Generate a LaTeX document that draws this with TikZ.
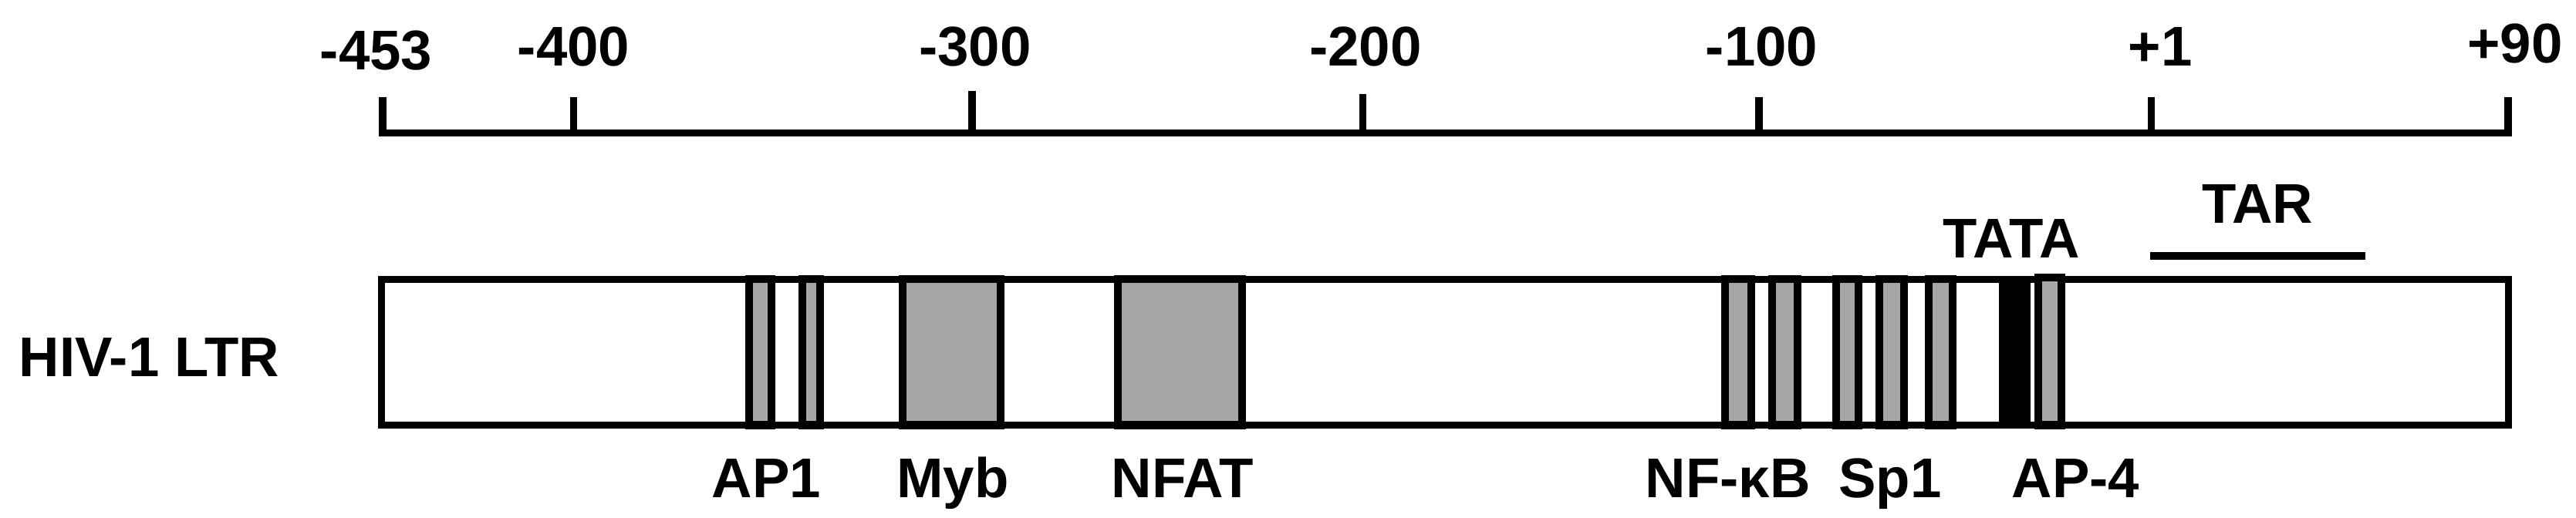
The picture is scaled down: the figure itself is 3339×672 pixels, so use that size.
\documentclass[tikz,border=0pt]{standalone}
\usepackage{fontspec}
\setmainfont{Liberation Sans}
\definecolor{siteGray}{HTML}{A6A6A6}
\begin{document}
\begin{tikzpicture}[x=0.25pt,y=-0.25pt,
  lbl/.style={font=\fontsize{18.15}{20}\selectfont\bfseries, inner sep=0pt, anchor=base},
  axisline/.style={line width=2.3pt, line join=miter},
  boxline/.style={line width=2.25pt},
  site/.style={draw=black, line width=2.5pt, fill=siteGray},
]
\useasboundingbox (0,0) rectangle (3339,672);
% scale axis
\draw[axisline] (496,126) -- (496,172.8) -- (3251,172.8) -- (3251,126);
\foreach \x/\t in {743.6/126, 1260/118, 1766.4/122, 2280/126, 2788.4/126}
  \draw[axisline] (\x,\t) -- (\x,172.8);
\node[lbl] (l453) at (487.6,91) {-453};
\node[lbl] (l400) at (743.5,86) {-400};
\node[lbl] (l300) at (1264,86) {-300};
\node[lbl] (l200) at (1770,86) {-200};
\node[lbl] (l100) at (2283.5,86) {-100};
\node[lbl] (lp1) at (2800,86) {+1};
\node[lbl] (lp90) at (3260,82) {+90};
% LTR box
\draw[boxline, fill=white] (494.5,362.5) rectangle (3251,551.5);
\foreach \a/\b in {970.6/999.5, 1039.7/1062.7, 1170.4/1296.6, 1448.7/1610,
                   2236/2270, 2296.5/2329.5, 2380/2409, 2435.5/2467.6, 2499.5/2531}
  \draw[site] (\a,362.5) rectangle (\b,551.5);
\fill[black] (2591,362.5) rectangle (2632,551.5);
\draw[site] (2642,360) rectangle (2672,551.5);
% TAR bracket
\coordinate (tarL) at (2787,331.7);
\coordinate (tarR) at (3065.6,331.7);
\draw[line width=2.5pt] (tarL) -- (tarR);
\node[lbl] (tar) at (2926,290) {TAR};
\node[lbl] (tata) at (2607.6,335) {TATA};
\node[lbl, anchor=base west] (hiv) at (24,489) {HIV-1 LTR};
% site labels
\node[lbl] (ap1) at (993.5,645) {AP1};
\node[lbl] (myb) at (1235,645) {Myb};
\node[lbl] (nfat) at (1533,645) {NFAT};
\node[lbl] (nfkb) at (2239.5,645) {NF-κB};
\node[lbl] (sp1) at (2450,645) {Sp1};
\node[lbl] (ap4) at (2690.5,645) {AP-4};
\end{tikzpicture}
\end{document}
